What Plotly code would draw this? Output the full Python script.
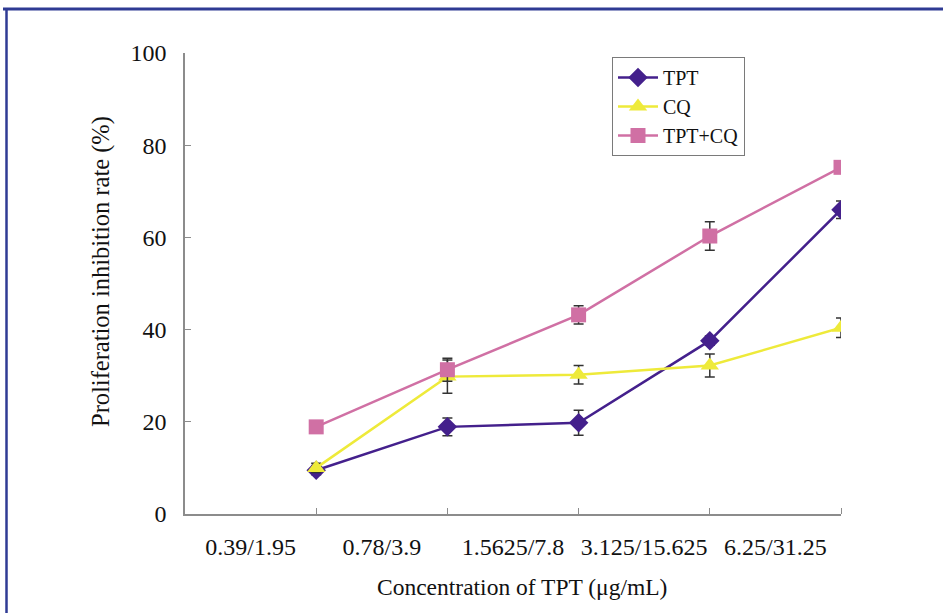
import plotly.graph_objects as go

categories = ["0.39/1.95", "0.78/3.9", "1.5625/7.8", "3.125/15.625", "6.25/31.25"]
tpt = [9.5, 18.9, 19.8, 37.6, 66.0]
tpt_err = [1.0, 1.9, 2.7, 1.0, 1.9]
cq = [10.0, 29.8, 30.2, 32.2, 40.4]
cq_err = [1.0, 3.6, 2.0, 2.5, 2.1]
combo = [18.9, 31.3, 43.2, 60.3, 75.2]
combo_err = [0.5, 2.5, 2.0, 3.1, 0.6]
y_ticks = [0, 20, 40, 60, 80, 100]

n = len(categories)
x_pts = [i + 1 for i in range(n)]
x_lbl = [i + 0.5 for i in range(n)]

FONT = "Liberation Serif"
AX = "#8c8c8c"

fig = go.Figure()

def add(name, y, err, color, symbol, msize):
    fig.add_trace(go.Scatter(
        x=x_pts, y=y, name=name, mode="lines+markers",
        line=dict(color=color, width=2.5),
        marker=dict(symbol=symbol, size=msize, color=color),
        error_y=dict(type="data", array=err, visible=True, color="#333333",
                     thickness=1.5, width=5),
    ))

add("TPT", tpt, tpt_err, "#44208c", "diamond", 15)
add("CQ", cq, cq_err, "#eeea3a", "triangle-up", 16)
add("TPT+CQ", combo, combo_err, "#d070a4", "square", 15)

L, R, T, B = 185, 102, 53, 99
W, H = 943, 613
pw, ph = W - L - R, H - T - B

fig.update_layout(
    width=W, height=H,
    margin=dict(l=L, r=R, t=T, b=B, autoexpand=False),
    paper_bgcolor="white", plot_bgcolor="white",
    font=dict(family=FONT, color="#111111", size=20),
    showlegend=True,
    legend=dict(x=(612 - L) / pw, y=(514 - 57) / ph, xanchor="left", yanchor="top",
                bordercolor="#7a7a7a", borderwidth=1, bgcolor="white",
                font=dict(family=FONT, size=20, color="#111111"),
                tracegroupgap=0, itemwidth=40),
    xaxis=dict(range=[0, n], tickmode="array", tickvals=x_lbl, ticktext=categories,
               ticks="", showgrid=False, zeroline=False,
               showline=True, linecolor=AX, linewidth=1.5,
               tickfont=dict(family=FONT, size=24, color="#111111"),
               ticklabelstandoff=10,
               minor=dict(tickmode="array", tickvals=x_pts, ticks="inside",
                          ticklen=6, tickcolor=AX, tickwidth=1, showgrid=False)),
    yaxis=dict(range=[0, 100], tickmode="array", tickvals=y_ticks,
               ticks="inside", ticklen=6, tickcolor=AX, tickwidth=1,
               showgrid=False, zeroline=False,
               showline=True, linecolor=AX, linewidth=1.5,
               tickfont=dict(family=FONT, size=24, color="#111111"),
               ticklabelstandoff=12),
    annotations=[
        dict(text="Concentration of TPT (μg/mL)", xref="paper", yref="paper",
             x=(522 - L) / pw, y=(514 - 587) / ph, xanchor="center", yanchor="middle",
             showarrow=False, font=dict(family=FONT, size=23.5, color="#111111")),
        dict(text="Proliferation inhibition rate (%)", xref="paper", yref="paper",
             x=(101 - L) / pw, y=(514 - 272) / ph, xanchor="center", yanchor="middle",
             textangle=-90, showarrow=False,
             font=dict(family=FONT, size=24.5, color="#111111")),
    ],
    shapes=[
        dict(type="line", xref="paper", yref="paper",
             x0=(3 - L) / pw, x1=(W - L) / pw, y0=(514 - 9) / ph, y1=(514 - 9) / ph,
             line=dict(color="#2f3b94", width=3)),
        dict(type="line", xref="paper", yref="paper",
             x0=(6.5 - L) / pw, x1=(6.5 - L) / pw, y0=(514 - 8) / ph, y1=(514 - H) / ph,
             line=dict(color="#2f3b94", width=2.5)),
    ],
)

fig.write_html("out.html")
